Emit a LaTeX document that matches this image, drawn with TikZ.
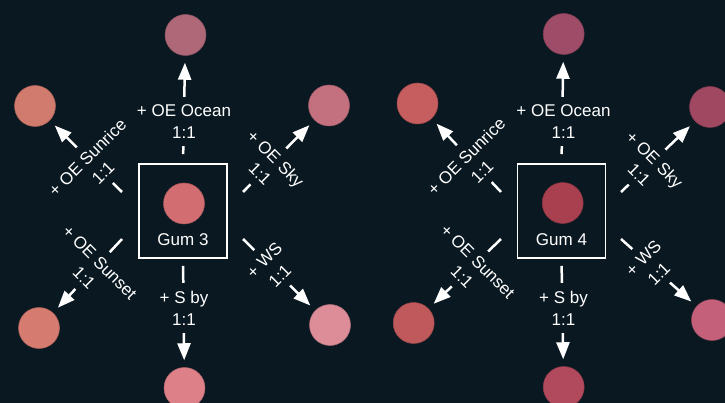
\documentclass[tikz,border=0pt]{standalone}
\usepackage{fontspec}
\setmainfont{Liberation Sans}
\usetikzlibrary{arrows.meta}

\definecolor{bg}{HTML}{0A1821}
% swatch colours, Gum 3
\definecolor{aC}{HTML}{D26E72}
\definecolor{aT}{HTML}{AF6878}
\definecolor{aTL}{HTML}{D07B6E}
\definecolor{aTR}{HTML}{C4717F}
\definecolor{aBL}{HTML}{D57B70}
\definecolor{aBR}{HTML}{DC8D98}
\definecolor{aB}{HTML}{DE8088}
% swatch colours, Gum 4
\definecolor{bC}{HTML}{A8404F}
\definecolor{bT}{HTML}{9E4C68}
\definecolor{bTL}{HTML}{C65D5E}
\definecolor{bTR}{HTML}{A04862}
\definecolor{bBL}{HTML}{C0595C}
\definecolor{bBR}{HTML}{C4607A}
\definecolor{bB}{HTML}{B24A5E}

\begin{document}
\begin{tikzpicture}[x=1pt,y=-1pt,
  dot/.style={circle, minimum size=41pt, inner sep=0pt, fill=#1, draw=#1!80!black, line width=0.5pt},
  gumbox/.style={draw=white, line width=1.8pt, minimum width=88pt, minimum height=94pt, inner sep=0pt},
  gumname/.style={text=white, font=\fontsize{17}{21}\selectfont, inner sep=0pt},
  link/.style={draw=white, line width=2.5pt, -{Triangle[length=17pt,width=13pt]}},
  lbl/.style={fill=bg, text=white, align=center, font=\fontsize{17}{22}\selectfont, inner xsep=3pt, inner ysep=8pt}
]
\fill[bg] (0,0) rectangle (725,403);
\clip (0,0) rectangle (725,403);

% ---------------- Gum 3 ----------------
\node[gumbox] (ga) at (183,211) {};
\node[dot=aC] (ca) at (184,203.5) {};
\node[gumname] (na) at (183,240) {Gum 3};
\node[dot=aT]  (ta)  at (185.5,35) {};
\node[dot=aTL] (tla) at (35,106) {};
\node[dot=aTR] (tra) at (329,105.5) {};
\node[dot=aBL] (bla) at (39,328) {};
\node[dot=aBR] (bra) at (330,325) {};
\node[dot=aB]  (ba)  at (184.5,388) {};

\coordinate (tlsa) at (122,192);
\coordinate (trsa) at (243,192);
\coordinate (blsa) at (122,239);
\coordinate (brsa) at (243,239);

\draw[link, shorten <=9pt, shorten >=7pt] (ga.north) -- (ta);
\draw[link, shorten <=7pt, shorten >=7pt] (ga.south) -- (ba);
\draw[link, shorten >=7pt] (tlsa) -- (tla);
\draw[link, shorten >=7pt] (trsa) -- (tra);
\draw[link, shorten >=7pt] (blsa) -- (bla);
\draw[link, shorten >=7pt] (brsa) -- (bra);

\node[lbl] (lta) at (184,121.5) {+ OE Ocean\\1:1};
\node[lbl] (lba) at (184,308) {+ S by\\1:1};
\node[lbl, rotate=45]  (ltla) at (95,165) {+ OE Sunrice\\1:1};
\node[lbl, rotate=-45] (ltra) at (268,166) {+ OE Sky\\1:1};
\node[lbl, rotate=-45] (lbla) at (92,270) {+ OE Sunset\\1:1};
\node[lbl, rotate=45]  (lbra) at (272,268) {+ WS\\1:1};

% ---------------- Gum 4 ----------------
\node[gumbox] (gb) at (561.5,211) {};
\node[dot=bC] (cb) at (562.7,203) {};
\node[gumname] (nb) at (561.5,240) {Gum 4};
\node[dot=bT]  (tb)  at (563.7,34) {};
\node[dot=bTL] (tlb) at (417.5,103.5) {};
\node[dot=bTR] (trb) at (710,107) {};
\node[dot=bBL] (blb) at (413.7,323) {};
\node[dot=bBR] (brb) at (712,320) {};
\node[dot=bB]  (bb)  at (563.7,387) {};

\coordinate (tlsb) at (501,192);
\coordinate (trsb) at (621,192);
\coordinate (blsb) at (501,239);
\coordinate (brsb) at (621,239);

\draw[link, shorten <=9pt, shorten >=7pt] (gb.north) -- (tb);
\draw[link, shorten <=7pt, shorten >=7pt] (gb.south) -- (bb);
\draw[link, shorten >=7pt] (tlsb) -- (tlb);
\draw[link, shorten >=7pt] (trsb) -- (trb);
\draw[link, shorten >=7pt] (blsb) -- (blb);
\draw[link, shorten >=7pt] (brsb) -- (brb);

\node[lbl] (ltb) at (563.5,121.5) {+ OE Ocean\\1:1};
\node[lbl] (lbb) at (563.5,308) {+ S by\\1:1};
\node[lbl, rotate=45]  (ltlb) at (474,164) {+ OE Sunrice\\1:1};
\node[lbl, rotate=-45] (ltrb) at (647,167) {+ OE Sky\\1:1};
\node[lbl, rotate=-45] (lblb) at (470,269) {+ OE Sunset\\1:1};
\node[lbl, rotate=45]  (lbrb) at (651,266) {+ WS\\1:1};
\end{tikzpicture}
\end{document}
